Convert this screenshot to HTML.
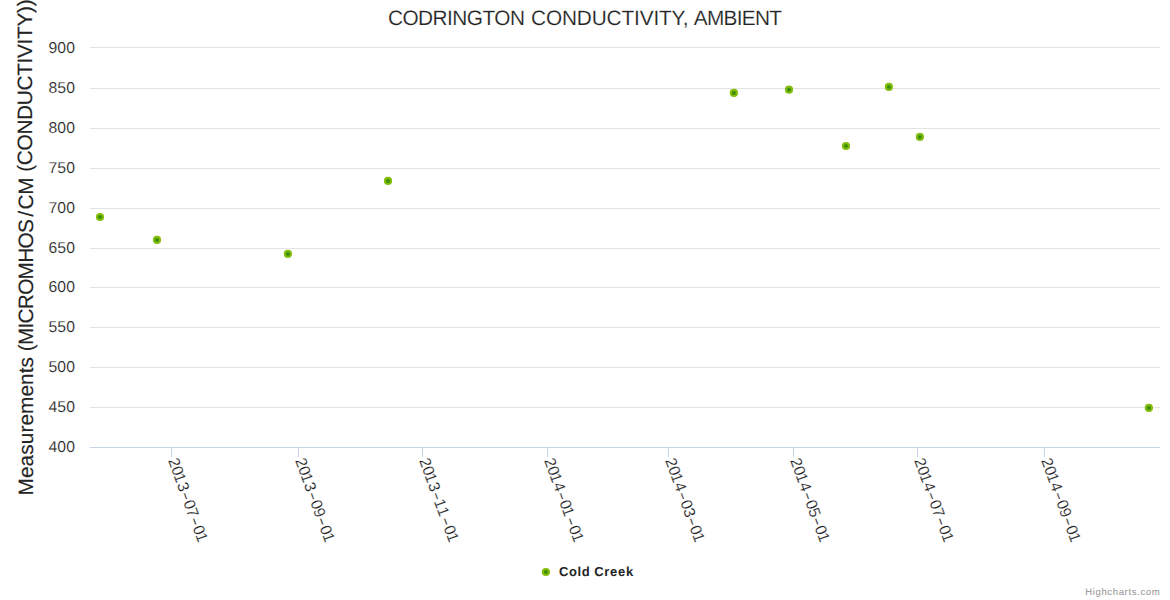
<!DOCTYPE html>
<html><head><meta charset="utf-8"><title>Codrington Conductivity, Ambient</title>
<style>html,body{margin:0;padding:0;background:#fff;}body{width:1170px;height:600px;overflow:hidden;}svg{display:block;font-family:"Liberation Sans",sans-serif;}text{font-family:"Liberation Sans",sans-serif;white-space:pre;text-rendering:geometricPrecision;}</style></head><body>
<svg width="1170" height="600" viewBox="0 0 1170 600">
<rect x="0" y="0" width="1170" height="600" fill="#ffffff"/>
<g shape-rendering="crispEdges">
<rect x="90" y="47" width="1070" height="1" fill="#e4e4e4"/>
<rect x="90" y="88" width="1070" height="1" fill="#e4e4e4"/>
<rect x="90" y="128" width="1070" height="1" fill="#e4e4e4"/>
<rect x="90" y="168" width="1070" height="1" fill="#e4e4e4"/>
<rect x="90" y="208" width="1070" height="1" fill="#e4e4e4"/>
<rect x="90" y="248" width="1070" height="1" fill="#e4e4e4"/>
<rect x="90" y="287" width="1070" height="1" fill="#e4e4e4"/>
<rect x="90" y="327" width="1070" height="1" fill="#e4e4e4"/>
<rect x="90" y="367" width="1070" height="1" fill="#e4e4e4"/>
<rect x="90" y="407" width="1070" height="1" fill="#e4e4e4"/>
<rect x="90" y="447" width="1070" height="1" fill="#c8d3e8"/>
<rect x="171" y="447" width="1" height="10" fill="#c8d3e8"/>
<rect x="298" y="447" width="1" height="10" fill="#c8d3e8"/>
<rect x="422" y="447" width="1" height="10" fill="#c8d3e8"/>
<rect x="547" y="447" width="1" height="10" fill="#c8d3e8"/>
<rect x="668" y="447" width="1" height="10" fill="#c8d3e8"/>
<rect x="793" y="447" width="1" height="10" fill="#c8d3e8"/>
<rect x="917" y="447" width="1" height="10" fill="#c8d3e8"/>
<rect x="1044" y="447" width="1" height="10" fill="#c8d3e8"/>
</g>
<text x="387.90" y="25.10" font-size="20.8" font-weight="normal" fill="#242424" stroke="#fff" stroke-width="0.15" letter-spacing="-0.522">CODRINGTON</text>
<text x="531.05" y="25.10" font-size="20.8" font-weight="normal" fill="#242424" stroke="#fff" stroke-width="0.15" letter-spacing="-0.142">CONDUCTIVITY,</text>
<text x="693.80" y="25.10" font-size="20.8" font-weight="normal" fill="#242424" stroke="#fff" stroke-width="0.15" letter-spacing="-0.717">AMBIENT</text>
<text x="559.10" y="575.80" font-size="13" font-weight="bold" fill="#242424" letter-spacing="0.600">Cold</text>
<text x="594.30" y="575.80" font-size="13" font-weight="bold" fill="#242424" letter-spacing="0.669">Creek</text>
<text x="1085.25" y="594.80" font-size="9.5" font-weight="normal" fill="#909090" letter-spacing="0.644">Highcharts.com</text>
<text x="48.38" y="53.00" font-size="15.75" fill="#242424" stroke="#fff" stroke-width="0.15" letter-spacing="0.15">900</text>
<text x="48.38" y="92.90" font-size="15.75" fill="#242424" stroke="#fff" stroke-width="0.15" letter-spacing="0.15">850</text>
<text x="48.38" y="132.80" font-size="15.75" fill="#242424" stroke="#fff" stroke-width="0.15" letter-spacing="0.15">800</text>
<text x="48.38" y="172.70" font-size="15.75" fill="#242424" stroke="#fff" stroke-width="0.15" letter-spacing="0.15">750</text>
<text x="48.38" y="212.60" font-size="15.75" fill="#242424" stroke="#fff" stroke-width="0.15" letter-spacing="0.15">700</text>
<text x="48.38" y="252.50" font-size="15.75" fill="#242424" stroke="#fff" stroke-width="0.15" letter-spacing="0.15">650</text>
<text x="48.38" y="292.40" font-size="15.75" fill="#242424" stroke="#fff" stroke-width="0.15" letter-spacing="0.15">600</text>
<text x="48.38" y="332.30" font-size="15.75" fill="#242424" stroke="#fff" stroke-width="0.15" letter-spacing="0.15">550</text>
<text x="48.38" y="372.20" font-size="15.75" fill="#242424" stroke="#fff" stroke-width="0.15" letter-spacing="0.15">500</text>
<text x="48.38" y="412.10" font-size="15.75" fill="#242424" stroke="#fff" stroke-width="0.15" letter-spacing="0.15">450</text>
<text x="48.38" y="452.00" font-size="15.75" fill="#242424" stroke="#fff" stroke-width="0.15" letter-spacing="0.15">400</text>
<text transform="translate(33.00,495.45) rotate(-90)" font-size="20.8" fill="#242424" stroke="#242424" stroke-width="0.12" letter-spacing="0.082">Measurements</text>
<text transform="translate(32.90,351.25) rotate(-90)" font-size="20.8" fill="#242424" stroke="#242424" stroke-width="0.12" letter-spacing="-0.731">(MICROMHOS</text><text transform="translate(32.80,216.70) rotate(-90)" font-size="20.8" fill="#242424" stroke="#242424" stroke-width="0.12" letter-spacing="0.000">/</text><text transform="translate(32.60,209.50) rotate(-90)" font-size="20.8" fill="#242424" stroke="#242424" stroke-width="0.12" letter-spacing="-0.225">CM</text>
<text transform="translate(32.10,171.75) rotate(-90)" font-size="20.8" fill="#242424" stroke="#242424" stroke-width="0.12" letter-spacing="-0.318">(CONDUCTIVITY))</text>
<g transform="translate(168.20,461.00) rotate(70)" font-size="15.75" fill="#242424" stroke="#fff" stroke-width="0.15"><text x="-0.73 7.87 15.57 25.07" y="0">2013</text><text transform="translate(38.80,0) scale(1.65,1)" x="-2.62" y="0">-</text><text x="43.77 52.37" y="0">07</text><text transform="translate(66.10,0) scale(1.65,1)" x="-2.62" y="0">-</text><text x="71.07 78.77" y="0">01</text></g>
<g transform="translate(295.20,461.00) rotate(70)" font-size="15.75" fill="#242424" stroke="#fff" stroke-width="0.15"><text x="-0.73 7.87 15.57 25.07" y="0">2013</text><text transform="translate(38.80,0) scale(1.65,1)" x="-2.62" y="0">-</text><text x="43.77 52.37" y="0">09</text><text transform="translate(66.10,0) scale(1.65,1)" x="-2.62" y="0">-</text><text x="71.07 78.77" y="0">01</text></g>
<g transform="translate(419.20,461.00) rotate(70)" font-size="15.75" fill="#242424" stroke="#fff" stroke-width="0.15"><text x="-0.73 7.87 15.57 25.07" y="0">2013</text><text transform="translate(38.80,0) scale(1.65,1)" x="-2.62" y="0">-</text><text x="42.87 51.47" y="0">11</text><text transform="translate(66.10,0) scale(1.65,1)" x="-2.62" y="0">-</text><text x="71.07 78.77" y="0">01</text></g>
<g transform="translate(544.20,461.00) rotate(70)" font-size="15.75" fill="#242424" stroke="#fff" stroke-width="0.15"><text x="-0.73 7.87 15.57 25.07" y="0">2014</text><text transform="translate(38.80,0) scale(1.65,1)" x="-2.62" y="0">-</text><text x="43.77 51.47" y="0">01</text><text transform="translate(66.10,0) scale(1.65,1)" x="-2.62" y="0">-</text><text x="71.07 78.77" y="0">01</text></g>
<g transform="translate(665.20,461.00) rotate(70)" font-size="15.75" fill="#242424" stroke="#fff" stroke-width="0.15"><text x="-0.73 7.87 15.57 25.07" y="0">2014</text><text transform="translate(38.80,0) scale(1.65,1)" x="-2.62" y="0">-</text><text x="43.77 52.37" y="0">03</text><text transform="translate(66.10,0) scale(1.65,1)" x="-2.62" y="0">-</text><text x="71.07 78.77" y="0">01</text></g>
<g transform="translate(790.20,461.00) rotate(70)" font-size="15.75" fill="#242424" stroke="#fff" stroke-width="0.15"><text x="-0.73 7.87 15.57 25.07" y="0">2014</text><text transform="translate(38.80,0) scale(1.65,1)" x="-2.62" y="0">-</text><text x="43.77 52.37" y="0">05</text><text transform="translate(66.10,0) scale(1.65,1)" x="-2.62" y="0">-</text><text x="71.07 78.77" y="0">01</text></g>
<g transform="translate(914.20,461.00) rotate(70)" font-size="15.75" fill="#242424" stroke="#fff" stroke-width="0.15"><text x="-0.73 7.87 15.57 25.07" y="0">2014</text><text transform="translate(38.80,0) scale(1.65,1)" x="-2.62" y="0">-</text><text x="43.77 52.37" y="0">07</text><text transform="translate(66.10,0) scale(1.65,1)" x="-2.62" y="0">-</text><text x="71.07 78.77" y="0">01</text></g>
<g transform="translate(1041.20,461.00) rotate(70)" font-size="15.75" fill="#242424" stroke="#fff" stroke-width="0.15"><text x="-0.73 7.87 15.57 25.07" y="0">2014</text><text transform="translate(38.80,0) scale(1.65,1)" x="-2.62" y="0">-</text><text x="43.77 52.37" y="0">09</text><text transform="translate(66.10,0) scale(1.65,1)" x="-2.62" y="0">-</text><text x="71.07 78.77" y="0">01</text></g>
<circle cx="100.0" cy="217.0" r="3.05" fill="#3a8f0a" stroke="#84bc0c" stroke-width="2.1"/>
<circle cx="157.0" cy="239.9" r="3.05" fill="#3a8f0a" stroke="#84bc0c" stroke-width="2.1"/>
<circle cx="287.9" cy="253.9" r="3.05" fill="#3a8f0a" stroke="#84bc0c" stroke-width="2.1"/>
<circle cx="388.0" cy="180.9" r="3.05" fill="#3a8f0a" stroke="#84bc0c" stroke-width="2.1"/>
<circle cx="733.9" cy="92.9" r="3.05" fill="#3a8f0a" stroke="#84bc0c" stroke-width="2.1"/>
<circle cx="789.0" cy="89.7" r="3.05" fill="#3a8f0a" stroke="#84bc0c" stroke-width="2.1"/>
<circle cx="846.0" cy="146.0" r="3.05" fill="#3a8f0a" stroke="#84bc0c" stroke-width="2.1"/>
<circle cx="888.9" cy="86.9" r="3.05" fill="#3a8f0a" stroke="#84bc0c" stroke-width="2.1"/>
<circle cx="919.9" cy="136.9" r="3.05" fill="#3a8f0a" stroke="#84bc0c" stroke-width="2.1"/>
<circle cx="1148.9" cy="407.9" r="3.05" fill="#3a8f0a" stroke="#84bc0c" stroke-width="2.1"/>
<circle cx="545.9" cy="572.0" r="3.05" fill="#3a8f0a" stroke="#84bc0c" stroke-width="2.1"/>
</svg></body></html>
